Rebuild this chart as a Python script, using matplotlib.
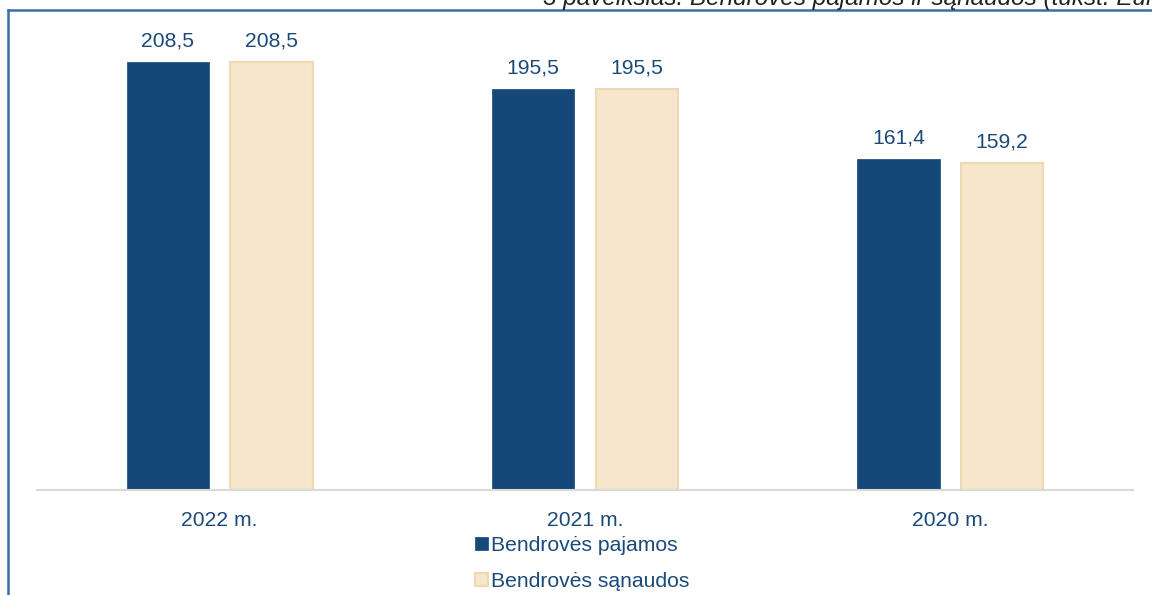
import numpy as np
import matplotlib.pyplot as plt

plt.rcParams['font.family'] = ['Liberation Sans', 'DejaVu Sans']

# data
years = ['2022 m.', '2021 m.', '2020 m.']
pajamos = [208.5, 195.5, 161.4]
sanaudos = [208.5, 195.5, 159.2]
labels = ['Bendrovės pajamos', 'Bendrovės sąnaudos']
title = '3 paveikslas. Bendrovės pajamos ir sąnaudos (tūkst. Eur)'

dark = '#154878'
light = '#F5E6CC'
light_edge = '#F0D8B0'
txt = '#1B4A7A'
fs = 15.2

W, H = 1152, 595
fig = plt.figure(figsize=(W / 100, H / 100), dpi=100)
ax = fig.add_axes([37 / W, (H - 490) / H, (1133 - 37) / W, (490 - 20) / H])

x = np.arange(len(years))
w = 0.225
off = 0.142
b1 = ax.bar(x - off, pajamos, w, color=dark, edgecolor=dark, linewidth=0.5, label=labels[0])
b2 = ax.bar(x + off, sanaudos, w, color=light, edgecolor=light_edge, linewidth=1.5, label=labels[1])

for bars, vals in [(b1, pajamos), (b2, sanaudos)]:
    for r, v in zip(bars, vals):
        ax.text(r.get_x() + r.get_width() / 2, v + 5.5, f'{v:.1f}'.replace('.', ','),
                ha='center', va='bottom', fontsize=fs, color=txt)

ax.set_xlim(-0.5, 2.5)
ax.set_ylim(0, 229)
ax.set_xticks(x)
ax.set_xticklabels(years, fontsize=fs, color=txt)
ax.tick_params(axis='x', length=0, pad=15)
ax.set_yticks([])
for s in ['top', 'right', 'left']:
    ax.spines[s].set_visible(False)
ax.spines['bottom'].set_color('#D9D9D9')
ax.spines['bottom'].set_linewidth(1.5)

leg = fig.legend(handles=[b1, b2], loc='upper left', bbox_to_anchor=(475 / W, (H - 536) / H),
                 frameon=False, fontsize=fs, handlelength=0.62, handleheight=0.62,
                 handletextpad=0.12, labelspacing=0.8, borderpad=0, borderaxespad=0)
for t in leg.get_texts():
    t.set_color(txt)

# frame lines and cut-off caption
frame = '#3A6EA5'
fig.add_artist(plt.Line2D([8 / W, 1], [(H - 10) / H, (H - 10) / H], color=frame, lw=1.8,
                          transform=fig.transFigure))
fig.add_artist(plt.Line2D([8 / W, 8 / W], [0, (H - 10) / H], color=frame, lw=1.8,
                          transform=fig.transFigure))
fig.text(543 / W, (H - 5.5) / H, title, ha='left', va='baseline', fontsize=17.5,
         style='italic', color='#222222')

fig.savefig('out.png', dpi=100)
